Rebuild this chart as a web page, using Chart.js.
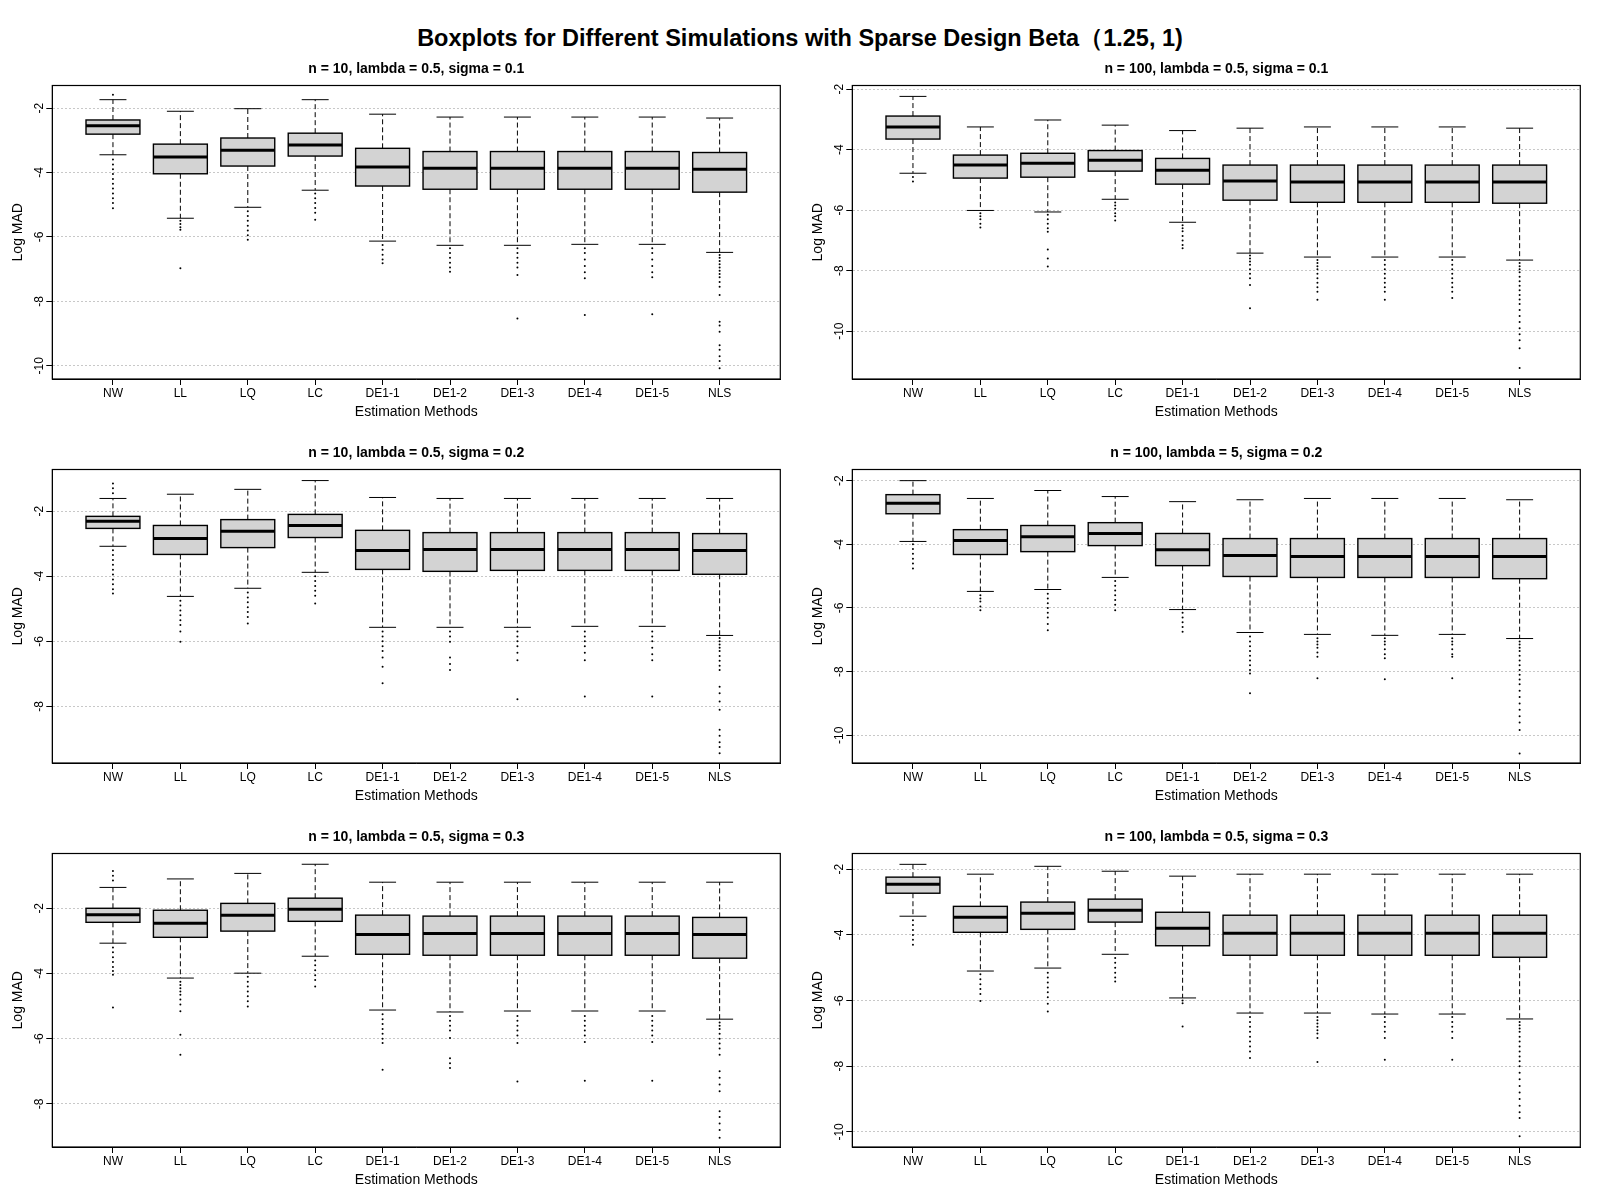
<!DOCTYPE html>
<html>
<head>
<meta charset="utf-8">
<title>Boxplots for Different Simulations</title>
<script src="https://cdn.jsdelivr.net/npm/chart.js@4.4.1/dist/chart.umd.min.js"></script>
<style>
  body { margin: 0; background: #fff; }
  #page { position: relative; width: 1600px; height: 1200px; background: #fff; font-family: "Liberation Sans", Arial, sans-serif; }
  #mainTitle { position: absolute; left: 0; top: 23px; width: 1600px; text-align: center; font-weight: bold; font-size: 23.5px; line-height: 30px; color: #000; }
  .panel { position: absolute; width: 800px; height: 384px; }
</style>
</head>
<body>
<div id="page">
  <div id="mainTitle">Boxplots for Different Simulations with Sparse Design Beta（1.25, 1)</div>
  <div class="panel" style="left:0;top:48px"><canvas id="c1" width="800" height="384"></canvas></div>
  <div class="panel" style="left:800px;top:48px"><canvas id="c2" width="800" height="384"></canvas></div>
  <div class="panel" style="left:0;top:432px"><canvas id="c3" width="800" height="384"></canvas></div>
  <div class="panel" style="left:800px;top:432px"><canvas id="c4" width="800" height="384"></canvas></div>
  <div class="panel" style="left:0;top:816px"><canvas id="c5" width="800" height="384"></canvas></div>
  <div class="panel" style="left:800px;top:816px"><canvas id="c6" width="800" height="384"></canvas></div>
</div>
<script>
// Méthodes d'estimation (axe x)
const methods = ['NW', 'LL', 'LQ', 'LC', 'DE1-1', 'DE1-2', 'DE1-3', 'DE1-4', 'DE1-5', 'NLS'];

// chaque ligne : [moustache basse, Q1, médiane, Q3, moustache haute]
const p1Box = [
  [-3.45, -2.81, -2.55, -2.37, -1.74],
  [-5.42, -4.04, -3.52, -3.12, -2.10],
  [-5.08, -3.80, -3.31, -2.93, -2.02],
  [-4.55, -3.49, -3.15, -2.78, -1.74],
  [-6.13, -4.42, -3.83, -3.25, -2.19],
  [-6.26, -4.52, -3.87, -3.35, -2.28],
  [-6.26, -4.52, -3.87, -3.35, -2.28],
  [-6.23, -4.52, -3.87, -3.35, -2.28],
  [-6.23, -4.52, -3.87, -3.35, -2.28],
  [-6.48, -4.61, -3.90, -3.38, -2.31],
];
const p1Out = [
  [-1.59, -3.6, -3.75, -3.9, -4.05, -4.2, -4.35, -4.5, -4.65, -4.8, -4.95, -5.11],
  [-5.5, -5.6, -5.7, -5.78, -6.97],
  [-5.2, -5.35, -5.5, -5.65, -5.8, -5.95, -6.09],
  [-4.65, -4.8, -4.95, -5.1, -5.25, -5.47],
  [-6.25, -6.4, -6.55, -6.7, -6.82],
  [-6.35, -6.5, -6.65, -6.8, -6.95, -7.08],
  [-6.35, -6.5, -6.65, -6.8, -6.95, -7.18, -8.53],
  [-6.35, -6.5, -6.7, -6.9, -7.1, -7.28, -8.42],
  [-6.35, -6.5, -6.7, -6.9, -7.1, -7.25, -8.40],
  [-6.56, -6.65, -6.75, -6.85, -6.95, -7.05, -7.15, -7.25, -7.4, -7.55, -7.8, -8.63, -8.75, -8.94, -9.36, -9.5, -9.7, -9.85, -10.08],
];
const p1Ticks = [-2, -4, -6, -8, -10];
const p1Range = [-10.41, -1.30];

const p2Box = [
  [-4.78, -3.65, -3.25, -2.89, -2.24],
  [-6.01, -4.94, -4.51, -4.18, -3.25],
  [-6.06, -4.91, -4.45, -4.12, -3.02],
  [-5.64, -4.71, -4.35, -4.03, -3.19],
  [-6.40, -5.14, -4.68, -4.29, -3.37],
  [-7.42, -5.67, -5.04, -4.51, -3.29],
  [-7.55, -5.74, -5.07, -4.51, -3.25],
  [-7.55, -5.74, -5.07, -4.51, -3.25],
  [-7.55, -5.74, -5.07, -4.51, -3.25],
  [-7.65, -5.77, -5.07, -4.51, -3.29],
];
const p2Out = [
  [-4.9, -5.05],
  [-6.1, -6.2, -6.3, -6.45, -6.57],
  [-6.15, -6.3, -6.45, -6.6, -6.71, -7.3, -7.6, -7.86],
  [-5.75, -5.85, -5.95, -6.1, -6.2, -6.34],
  [-6.5, -6.6, -6.7, -6.85, -7.0, -7.15, -7.26],
  [-7.5, -7.6, -7.7, -7.8, -7.95, -8.1, -8.25, -8.47, -9.24],
  [-7.65, -7.75, -7.85, -7.95, -8.1, -8.25, -8.4, -8.55, -8.7, -8.96],
  [-7.65, -7.8, -7.95, -8.1, -8.25, -8.4, -8.55, -8.7, -8.96],
  [-7.65, -7.8, -7.95, -8.1, -8.25, -8.4, -8.55, -8.7, -8.9],
  [-7.75, -7.85, -7.95, -8.05, -8.2, -8.35, -8.5, -8.65, -8.8, -8.95, -9.1, -9.3, -9.5, -9.7, -9.9, -10.1, -10.3, -10.56, -11.22],
];
const p2Ticks = [-2, -4, -6, -8, -10];
const p2Range = [-11.58, -1.88];

const p3Box = [
  [-3.08, -2.53, -2.31, -2.16, -1.61],
  [-4.62, -3.33, -2.84, -2.44, -1.48],
  [-4.37, -3.12, -2.62, -2.26, -1.33],
  [-3.88, -2.81, -2.44, -2.10, -1.06],
  [-5.57, -3.79, -3.21, -2.59, -1.58],
  [-5.57, -3.85, -3.18, -2.66, -1.61],
  [-5.57, -3.82, -3.18, -2.66, -1.61],
  [-5.54, -3.82, -3.18, -2.66, -1.61],
  [-5.54, -3.82, -3.18, -2.66, -1.61],
  [-5.82, -3.94, -3.21, -2.69, -1.61],
];
const p3Out = [
  [-1.15, -1.3, -1.45, -3.2, -3.35, -3.5, -3.65, -3.8, -3.95, -4.1, -4.25, -4.4, -4.53],
  [-4.75, -4.9, -5.05, -5.2, -5.35, -5.5, -5.7, -6.01],
  [-4.5, -4.65, -4.8, -4.95, -5.1, -5.25, -5.45],
  [-4.0, -4.15, -4.3, -4.45, -4.6, -4.84],
  [-5.7, -5.85, -6.0, -6.15, -6.3, -6.5, -6.78, -7.29],
  [-5.7, -5.85, -6.01, -6.5, -6.7, -6.88],
  [-5.7, -5.85, -6.0, -6.15, -6.35, -6.58, -7.78],
  [-5.7, -5.85, -6.0, -6.15, -6.35, -6.58, -7.70],
  [-5.7, -5.85, -6.0, -6.2, -6.4, -6.58, -7.70],
  [-5.9, -6.0, -6.1, -6.2, -6.3, -6.45, -6.6, -6.75, -6.88, -7.4, -7.6, -7.85, -8.1, -8.72, -8.9, -9.1, -9.25, -9.44],
];
const p3Ticks = [-2, -4, -6, -8];
const p3Range = [-9.74, -0.72];

const p4Box = [
  [-3.91, -3.04, -2.71, -2.44, -2.00],
  [-5.48, -4.32, -3.88, -3.54, -2.56],
  [-5.42, -4.23, -3.76, -3.41, -2.31],
  [-5.04, -4.04, -3.66, -3.32, -2.50],
  [-6.05, -4.67, -4.17, -3.66, -2.66],
  [-6.77, -5.01, -4.35, -3.82, -2.60],
  [-6.83, -5.04, -4.38, -3.82, -2.56],
  [-6.86, -5.04, -4.38, -3.82, -2.56],
  [-6.83, -5.04, -4.38, -3.82, -2.56],
  [-6.96, -5.08, -4.38, -3.82, -2.60],
];
const p4Out = [
  [-4.0, -4.15, -4.3, -4.45, -4.6, -4.76],
  [-5.6, -5.7, -5.8, -5.95, -6.07],
  [-5.55, -5.7, -5.85, -6.0, -6.15, -6.3, -6.5, -6.70],
  [-5.15, -5.3, -5.45, -5.6, -5.75, -5.9, -6.07],
  [-6.15, -6.3, -6.45, -6.6, -6.75],
  [-6.9, -7.05, -7.2, -7.35, -7.5, -7.65, -7.8, -7.95, -8.06, -8.68],
  [-6.95, -7.05, -7.15, -7.25, -7.4, -7.53, -8.21],
  [-6.95, -7.05, -7.15, -7.3, -7.45, -7.58, -8.24],
  [-6.95, -7.05, -7.15, -7.3, -7.45, -7.53, -8.21],
  [-7.05, -7.15, -7.25, -7.35, -7.5, -7.65, -7.8, -7.95, -8.1, -8.25, -8.4, -8.6, -8.8, -9.0, -9.2, -9.4, -9.6, -9.83, -10.57],
];
const p4Ticks = [-2, -4, -6, -8, -10];
const p4Range = [-10.87, -1.65];

const p5Box = [
  [-3.07, -2.43, -2.20, -2.00, -1.36],
  [-4.14, -2.89, -2.46, -2.06, -1.10],
  [-3.99, -2.70, -2.21, -1.85, -0.93],
  [-3.47, -2.40, -2.03, -1.69, -0.65],
  [-5.12, -3.41, -2.80, -2.21, -1.20],
  [-5.18, -3.44, -2.77, -2.24, -1.20],
  [-5.15, -3.44, -2.77, -2.24, -1.20],
  [-5.15, -3.44, -2.77, -2.24, -1.20],
  [-5.15, -3.44, -2.77, -2.24, -1.20],
  [-5.40, -3.53, -2.80, -2.28, -1.20],
];
const p5Out = [
  [-0.86, -1.0, -1.15, -3.2, -3.35, -3.5, -3.65, -3.8, -3.92, -4.04, -5.04],
  [-4.25, -4.35, -4.45, -4.55, -4.65, -4.8, -4.95, -5.16, -5.88, -6.49],
  [-4.1, -4.25, -4.4, -4.55, -4.7, -4.85, -5.01],
  [-3.6, -3.75, -3.9, -4.05, -4.2, -4.40],
  [-5.25, -5.4, -5.55, -5.7, -5.85, -6.0, -6.13, -6.95],
  [-5.3, -5.45, -5.6, -5.75, -5.98, -6.6, -6.75, -6.9],
  [-5.3, -5.45, -5.6, -5.75, -5.9, -6.13, -7.31],
  [-5.3, -5.45, -5.6, -5.75, -5.9, -6.1, -7.29],
  [-5.3, -5.45, -5.6, -5.75, -5.9, -6.1, -7.29],
  [-5.5, -5.6, -5.7, -5.85, -6.0, -6.15, -6.3, -6.49, -7.0, -7.2, -7.4, -7.61, -8.22, -8.4, -8.6, -8.8, -9.04],
];
const p5Ticks = [-2, -4, -6, -8];
const p5Range = [-9.32, -0.32];

const p6Box = [
  [-3.43, -2.73, -2.46, -2.24, -1.85],
  [-5.10, -3.92, -3.46, -3.13, -2.15],
  [-5.01, -3.83, -3.34, -3.00, -1.91],
  [-4.59, -3.61, -3.25, -2.91, -2.06],
  [-5.92, -4.33, -3.80, -3.31, -2.21],
  [-6.38, -4.62, -3.95, -3.40, -2.15],
  [-6.38, -4.62, -3.95, -3.40, -2.15],
  [-6.41, -4.62, -3.95, -3.40, -2.15],
  [-6.41, -4.62, -3.95, -3.40, -2.15],
  [-6.56, -4.68, -3.95, -3.40, -2.15],
];
const p6Out = [
  [-3.55, -3.7, -3.85, -4.0, -4.15, -4.30],
  [-5.2, -5.35, -5.5, -5.65, -5.8, -6.01],
  [-5.15, -5.3, -5.45, -5.6, -5.75, -5.9, -6.1, -6.33],
  [-4.7, -4.85, -5.0, -5.15, -5.3, -5.42],
  [-6.0, -6.08, -6.79],
  [-6.5, -6.65, -6.8, -6.95, -7.1, -7.25, -7.4, -7.55, -7.75],
  [-6.5, -6.6, -6.7, -6.8, -6.9, -7.0, -7.14, -7.87],
  [-6.5, -6.65, -6.8, -6.95, -7.14, -7.80],
  [-6.5, -6.65, -6.8, -6.95, -7.14, -7.80],
  [-6.65, -6.75, -6.85, -6.95, -7.1, -7.25, -7.4, -7.55, -7.7, -7.85, -8.0, -8.2, -8.4, -8.6, -8.8, -9.0, -9.2, -9.4, -9.58, -10.13],
];
const p6Ticks = [-2, -4, -6, -8, -10];
const p6Range = [-10.46, -1.52];

const panels = [
  { id: 'c1', title: 'n = 10, lambda = 0.5, sigma = 0.1', box: p1Box, out: p1Out, ticks: p1Ticks, range: p1Range },
  { id: 'c2', title: 'n = 100, lambda = 0.5, sigma = 0.1', box: p2Box, out: p2Out, ticks: p2Ticks, range: p2Range },
  { id: 'c3', title: 'n = 10, lambda = 0.5, sigma = 0.2', box: p3Box, out: p3Out, ticks: p3Ticks, range: p3Range },
  { id: 'c4', title: 'n = 100, lambda = 5, sigma = 0.2', box: p4Box, out: p4Out, ticks: p4Ticks, range: p4Range },
  { id: 'c5', title: 'n = 10, lambda = 0.5, sigma = 0.3', box: p5Box, out: p5Out, ticks: p5Ticks, range: p5Range },
  { id: 'c6', title: 'n = 100, lambda = 0.5, sigma = 0.3', box: p6Box, out: p6Out, ticks: p6Ticks, range: p6Range },
];

Chart.defaults.font.family = "'Liberation Sans', Arial, sans-serif";
Chart.defaults.color = '#000';

// Dessine les boîtes (moustaches, boîte, médiane) via les échelles du graphique
function boxPlugin(rows) {
  return {
    id: 'boxes',
    beforeDatasetsDraw(chart) {
      const { ctx, scales: { x, y } } = chart;
      const half = x.getPixelForValue(1.4) - x.getPixelForValue(1);
      const cap = half / 2;
      ctx.save();
      rows.forEach((r, i) => {
        const cx = x.getPixelForValue(i + 1);
        const [lo, q1, med, q3, hi] = r.map(v => y.getPixelForValue(v));
        ctx.strokeStyle = '#000';
        ctx.lineWidth = 1;
        ctx.setLineDash([5, 3]);
        ctx.beginPath();
        ctx.moveTo(cx, q3); ctx.lineTo(cx, hi);
        ctx.moveTo(cx, q1); ctx.lineTo(cx, lo);
        ctx.stroke();
        ctx.setLineDash([]);
        ctx.beginPath();
        ctx.moveTo(cx - cap, hi); ctx.lineTo(cx + cap, hi);
        ctx.moveTo(cx - cap, lo); ctx.lineTo(cx + cap, lo);
        ctx.stroke();
        ctx.fillStyle = '#d3d3d3';
        ctx.fillRect(cx - half, q3, 2 * half, q1 - q3);
        ctx.lineWidth = 1.4;
        ctx.strokeRect(cx - half, q3, 2 * half, q1 - q3);
        ctx.lineWidth = 3;
        ctx.beginPath();
        ctx.moveTo(cx - half, med); ctx.lineTo(cx + half, med);
        ctx.stroke();
      });
      ctx.restore();
    },
  };
}

// Cadre autour de la zone de tracé
const framePlugin = {
  id: 'frame',
  afterDraw(chart) {
    const { ctx, chartArea: a } = chart;
    ctx.save();
    ctx.strokeStyle = '#000';
    ctx.lineWidth = 1.2;
    ctx.strokeRect(a.left, a.top, a.right - a.left, a.bottom - a.top);
    ctx.restore();
  },
};

panels.forEach(p => {
  const hasTen = p.ticks.some(v => v <= -10);
  const points = p.out.flatMap((arr, i) => arr.map(v => ({ x: i + 1, y: v })));
  new Chart(document.getElementById(p.id), {
    type: 'scatter',
    data: {
      datasets: [{
        data: points,
        pointRadius: 1,
        pointBackgroundColor: '#000',
        pointBorderWidth: 0,
      }],
    },
    options: {
      responsive: false,
      animation: false,
      layout: { padding: { left: 0, right: 19.7, top: 0, bottom: 0 } },
      plugins: {
        legend: { display: false },
        tooltip: { enabled: false },
        title: {
          display: true,
          text: p.title,
          fullSize: false,
          color: '#000',
          font: { size: 14, weight: 'bold' },
          padding: { top: 12.6, bottom: 8.1 },
        },
      },
      scales: {
        x: {
          type: 'linear',
          min: 0.1,
          max: 10.9,
          afterBuildTicks: scale => { scale.ticks = methods.map((m, i) => ({ value: i + 1 })); },
          afterFit: scale => { scale.height = 53; },
          ticks: {
            autoSkip: false,
            maxRotation: 0,
            padding: 1.2,
            font: { size: 12 },
            callback: v => methods[v - 1],
          },
          grid: { drawOnChartArea: false, drawTicks: true, tickLength: 6, tickColor: '#000' },
          border: { display: true, color: '#000' },
          title: {
            display: true,
            text: 'Estimation Methods',
            font: { size: 14 },
            padding: { top: 0, bottom: 11.6 },
          },
        },
        y: {
          type: 'linear',
          min: p.range[0],
          max: p.range[1],
          afterBuildTicks: scale => { scale.ticks = p.ticks.map(v => ({ value: v })); },
          afterFit: scale => { scale.width = 52.3; },
          ticks: {
            minRotation: 90,
            maxRotation: 90,
            crossAlign: 'center',
            padding: hasTen ? -1.7 : 1.7,
            font: { size: 12 },
            callback: v => String(v),
          },
          grid: { color: '#c8c8c8', lineWidth: 1, drawTicks: true, tickLength: 6, tickColor: '#000', tickBorderDash: [] },
          border: { display: true, color: '#000', dash: [2, 2] },
          title: {
            display: true,
            text: 'Log MAD',
            font: { size: 14 },
            padding: { top: 9.6, bottom: 0 },
          },
        },
      },
    },
    plugins: [boxPlugin(p.box), framePlugin],
  });
});
</script>
</body>
</html>
